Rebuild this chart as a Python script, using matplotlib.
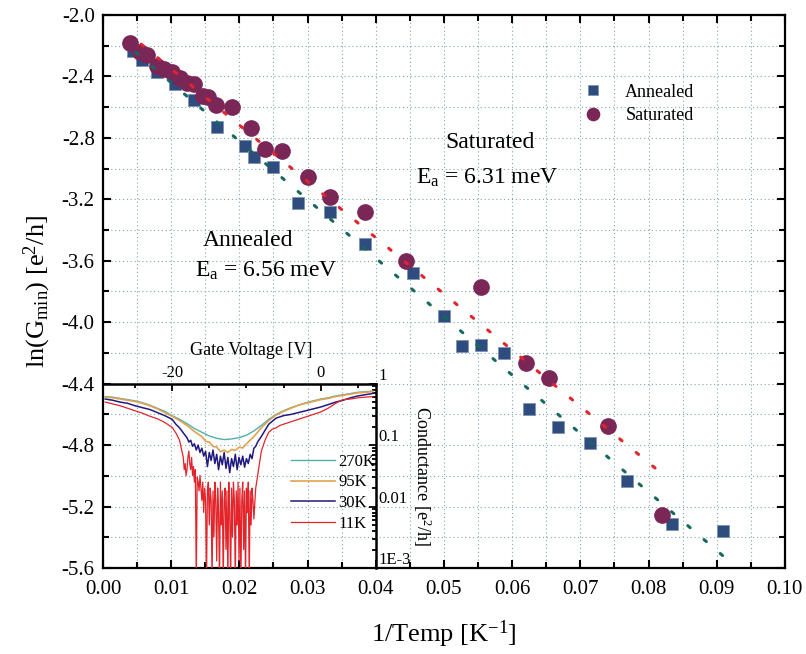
import matplotlib
matplotlib.use("Agg")
import matplotlib.pyplot as plt
from matplotlib.ticker import MultipleLocator, FixedLocator, LogLocator, NullFormatter

plt.rcParams['font.family'] = ['Liberation Serif', 'DejaVu Serif']
plt.rcParams['mathtext.default'] = 'regular'

# ---- main data: ln(Gmin) vs 1/T ----
anneal_x = [0.00445, 0.00577, 0.00787, 0.01056, 0.0133, 0.01667, 0.0208, 0.0222,
            0.0249, 0.02855, 0.0333, 0.0384, 0.0455, 0.0500, 0.0527, 0.0555,
            0.0588, 0.0625, 0.0667, 0.0714, 0.0769, 0.0834, 0.0909]
anneal_y = [-2.234, -2.293, -2.369, -2.449, -2.553, -2.727, -2.853, -2.922,
            -2.988, -3.222, -3.281, -3.491, -3.682, -3.958, -4.153, -4.148,
            -4.203, -4.567, -4.684, -4.784, -5.032, -5.316, -5.357]

sat_x = [0.00396, 0.00543, 0.0065, 0.00787, 0.00894, 0.01006, 0.0113, 0.01236,
         0.01334, 0.0147, 0.01544, 0.01657, 0.01887, 0.0217, 0.02375, 0.0262,
         0.0301, 0.0333, 0.0384, 0.0444, 0.0555, 0.0620, 0.0654, 0.0740, 0.0820]
sat_y = [-2.180, -2.239, -2.260, -2.330, -2.354, -2.369, -2.412, -2.445,
         -2.449, -2.527, -2.536, -2.586, -2.601, -2.738, -2.875, -2.883,
         -3.053, -3.183, -3.281, -3.600, -3.769, -4.268, -4.365, -4.676, -5.255]

# linear fits (end points)
anneal_fit_x = [0.0048, 0.0909]
anneal_fit_y = [-2.243, -5.52]
sat_fit_x = [0.0056, 0.0818]
sat_fit_y = [-2.19, -4.98]

# ---- inset data: conductance vs gate voltage ----
gate_270k = [-29, -28, -27, -26, -25, -24, -23, -22, -21, -20, -19, -18, -17,
             -16, -15, -14, -13, -12, -11, -10, -9, -8, -7, -6, -5, -4, -3,
             -2, -1, 0, 1, 2, 3, 4, 5, 6, 7]
g_270k = [0.617, 0.603, 0.575, 0.550, 0.525, 0.490, 0.447, 0.398, 0.355, 0.302,
          0.263, 0.224, 0.186, 0.162, 0.141, 0.129, 0.123, 0.126, 0.132, 0.145,
          0.170, 0.209, 0.263, 0.316, 0.363, 0.407, 0.447, 0.490, 0.525, 0.562,
          0.589, 0.631, 0.661, 0.692, 0.724, 0.741, 0.759]

gate_95k = [-29, -28, -27, -26, -25, -24, -23, -22, -21, -20, -19, -18, -17,
            -16, -15.5, -15, -14.5, -14, -13.5, -13, -12.5, -12, -11.5, -11,
            -10.5, -10, -9, -8, -7, -6, -5, -4, -3, -2, -1, 0, 1, 2, 3, 4, 5,
            6, 7]
g_95k = [0.603, 0.589, 0.562, 0.537, 0.513, 0.479, 0.437, 0.389, 0.339, 0.295,
         0.251, 0.209, 0.166, 0.138, 0.115, 0.112, 0.095, 0.093, 0.078, 0.083,
         0.076, 0.085, 0.082, 0.092, 0.090, 0.105, 0.138, 0.191, 0.251, 0.309,
         0.355, 0.398, 0.447, 0.479, 0.513, 0.550, 0.575, 0.617, 0.646, 0.676,
         0.708, 0.724, 0.741]

gate_30k = [-29, -28, -27, -26, -25, -24, -23, -22, -21, -20, -19.5, -19, -18.5,
            -18, -17.75, -17.5, -17.25, -17, -16.75, -16.5, -16.25, -16, -15.75,
            -15.5, -15.25, -15, -14.75, -14.5, -14.25, -14, -13.75, -13.5,
            -13.25, -13, -12.75, -12.5, -12.25, -12, -11.75, -11.5, -11.25, -11,
            -10.75, -10.5, -10.25, -10, -9.75, -9.5, -9.25, -9, -8.75, -8.5,
            -8, -7, -6, -5, -4, -3, -2, -1, 0, 1, 2, 3, 4, 5, 6, 7]
g_30k = [0.562, 0.537, 0.501, 0.479, 0.437, 0.407, 0.380, 0.339, 0.302, 0.263,
         0.219, 0.191, 0.158,
         0.132, 0.112, 0.120, 0.0955, 0.105, 0.0832, 0.100, 0.0759, 0.0891,
         0.0661, 0.0794, 0.0447, 0.0759, 0.0562, 0.0832, 0.0501, 0.0708, 0.0398,
         0.0661, 0.0479, 0.0759, 0.0417, 0.0631, 0.0355, 0.0603, 0.0447, 0.0708,
         0.0398, 0.0631, 0.0479, 0.0661, 0.0437, 0.0603, 0.0501, 0.0708, 0.0603,
         0.0891, 0.0955, 0.112,
         0.138, 0.219, 0.275, 0.302, 0.316, 0.339, 0.363, 0.389, 0.417, 0.457,
         0.501, 0.537, 0.589, 0.631, 0.661, 0.692]

gate_11k = [-29, -28, -27, -26, -25, -24, -23, -22, -21, -20, -19.5, -19,
            -18.5, -18.375, -18.25, -18.125, -18.0, -17.875, -17.75, -17.625,
            -17.5, -17.375, -17.25, -17.125, -17.0, -16.875, -16.75, -16.625,
            -16.5, -16.375, -16.25, -16.125, -16.0, -15.875, -15.75, -15.625,
            -15.5, -15.375, -15.25, -15.125, -15.0, -14.875, -14.75, -14.625,
            -14.5, -14.375, -14.25, -14.125, -14.0, -13.875, -13.75, -13.625,
            -13.5, -13.375, -13.25, -13.125, -13.0, -12.875, -12.75, -12.625,
            -12.5, -12.375, -12.25, -12.125, -12.0, -11.875, -11.75, -11.625,
            -11.5, -11.375, -11.25, -11.125, -11.0, -10.875, -10.75, -10.625,
            -10.5, -10.375, -10.25, -10.125, -10.0, -9.875, -9.75, -9.625,
            -9.5, -9.375, -9.25, -9.125, -9.0, -8.875, -8.75,
            -8.5, -8, -7.5, -7, -6.5, -6, -5.5, -5, -4, -3, -2, -1, 0, 1, 2,
            3, 4, 5, 6, 7]
g_11k = [0.501, 0.468, 0.437, 0.398, 0.363, 0.331, 0.295, 0.269, 0.234, 0.195,
         0.158, 0.120,
         0.063, 0.040, 0.050, 0.032, 0.040, 0.063, 0.080, 0.050,
         0.040, 0.063, 0.032, 0.045, 0.025, 0.040, 0.0006, 0.030,
         0.025, 0.018, 0.032, 0.020, 0.0126, 0.025, 0.008, 0.020,
         0.0126, 0.0006, 0.018, 0.025, 0.005, 0.020, 0.0126, 0.0006,
         0.018, 0.0032, 0.025, 0.0126, 0.0013, 0.020, 0.008, 0.0006,
         0.025, 0.005, 0.018, 0.0006, 0.0126, 0.020, 0.002, 0.018,
         0.0006, 0.025, 0.008, 0.0006, 0.020, 0.0032, 0.025, 0.0126,
         0.0006, 0.018, 0.005, 0.025, 0.0013, 0.020, 0.0006, 0.0126,
         0.025, 0.002, 0.018, 0.0006, 0.020, 0.008, 0.025, 0.0006,
         0.018, 0.005, 0.020, 0.0126, 0.0063, 0.0115, 0.020,
         0.0316, 0.0794, 0.120, 0.162, 0.182, 0.191, 0.209, 0.219, 0.240,
         0.263, 0.288, 0.316, 0.347, 0.398, 0.479, 0.550, 0.562, 0.589,
         0.603, 0.617]

fig = plt.figure(figsize=(8.06, 6.54), dpi=100)
ax = fig.add_axes([0.1278, 0.1315, 0.846, 0.8456])

grid_kw = dict(color='#7fa9b2', linestyle=(0, (1, 2.5)), linewidth=0.8)
ax.set_axisbelow(True)

ax.plot(anneal_x, anneal_y, 's', color='#2e4c7e', markeredgecolor='#7d93b5',
        markeredgewidth=0.6, markersize=9, label='Annealed', zorder=3)
ax.plot(sat_x, sat_y, 'o', color='#7a2656', markeredgecolor='#7a2656',
        markersize=11, label='Saturated', zorder=4)
ax.plot(anneal_fit_x, anneal_fit_y, color='#16695f', lw=2.2,
        linestyle=(0, (1, 6)), dash_capstyle='round', zorder=5)
ax.plot(sat_fit_x, sat_fit_y, color='#e3242b', lw=2.2,
        linestyle=(0, (1, 6)), dash_capstyle='round', zorder=5)

ax.set_xlim(0, 0.10)
ax.set_ylim(-5.6, -2.0)
ax.xaxis.set_major_locator(MultipleLocator(0.01))
ax.xaxis.set_minor_locator(MultipleLocator(0.005))
ax.yaxis.set_major_locator(MultipleLocator(0.4))
ax.yaxis.set_minor_locator(MultipleLocator(0.2))
ax.xaxis.set_major_formatter(plt.FormatStrFormatter('%.2f'))
ax.yaxis.set_major_formatter(plt.FormatStrFormatter('%.1f'))
ax.grid(True, which='both', **grid_kw)
ax.tick_params(which='both', direction='in', top=True, right=True,
               labelsize=15, width=1.5)
ax.tick_params(which='major', length=6)
ax.tick_params(which='minor', length=4)
ax.tick_params(axis='x', pad=9)
ax.tick_params(axis='y', pad=6)
for s in ax.spines.values():
    s.set_linewidth(1.6)

ax.set_xlabel('1/Temp [K$^{-1}$]', fontsize=19, labelpad=14)
ax.set_ylabel('ln(G$_{min}$) [e$^2$/h]', fontsize=19, labelpad=6)

ax.text(0.0567, -2.833, 'Saturated', fontsize=17, ha='center', va='center')
ax.text(0.0563, -3.06, 'E$_a$ = 6.31 meV', fontsize=17, ha='center', va='center')
ax.text(0.0213, -3.465, 'Annealed', fontsize=17, ha='center', va='center')
ax.text(0.0239, -3.667, 'E$_a$ = 6.56 meV', fontsize=17, ha='center', va='center')

ax.legend(loc='upper left', bbox_to_anchor=(0.668, 0.905), frameon=False,
          fontsize=13, markerscale=0.8, handletextpad=0.8, labelspacing=0.35)

# ---- inset ----
ins = ax.inset_axes([0, 0, 0.4, 1 / 3])
ins.patch.set_alpha(0)
ins.plot(gate_270k, g_270k, color='#4fb0ad', lw=1, label='270K')
ins.plot(gate_95k, g_95k, color='#e3a24f', lw=1.2, label='95K')
ins.plot(gate_30k, g_30k, color='#201a80', lw=1.1, label='30K')
ins.plot(gate_11k, g_11k, color='#e3242b', lw=0.9, label='11K')
ins.set_yscale('log')
ins.set_xlim(-29.3, 7.4)
ins.set_ylim(1e-3, 1)
ins.xaxis.tick_top()
ins.xaxis.set_label_position('top')
ins.yaxis.tick_right()
ins.yaxis.set_label_position('right')
ins.xaxis.set_major_locator(FixedLocator([-20, 0]))
ins.xaxis.set_minor_locator(MultipleLocator(5))
ins.yaxis.set_major_locator(FixedLocator([1e-3, 1e-2, 1e-1, 1]))
ins.yaxis.set_minor_locator(LogLocator(base=10, subs=range(2, 10)))
ins.yaxis.set_minor_formatter(NullFormatter())
ins.set_yticklabels(['1E-3', '0.01', '0.1', '1'])
ins.set_xticklabels(['-20', '0'])
ins.tick_params(which='both', direction='in', labelsize=12, width=1.3,
                left=False, bottom=False, pad=2)
ins.tick_params(which='major', length=5)
ins.tick_params(which='minor', length=3)
for lbl in ins.get_yticklabels():
    lbl.set_va('bottom')
ins.spines['left'].set_visible(False)
ins.spines['bottom'].set_visible(False)
ins.spines['top'].set_linewidth(1.8)
ins.spines['right'].set_linewidth(1.8)
ins.set_xlabel('Gate Voltage [V]', fontsize=13)
ins.xaxis.set_label_coords(0.545, 1.155)
ins.set_ylabel('Conductance [e$^2$/h]', fontsize=13, rotation=-90, labelpad=16)
ins.legend(loc='upper left', bbox_to_anchor=(0.66, 0.665), frameon=False,
           fontsize=12, handlelength=2.6, handletextpad=0.2, labelspacing=0.28,
           borderpad=0)

fig.savefig('out.png', dpi=100)
